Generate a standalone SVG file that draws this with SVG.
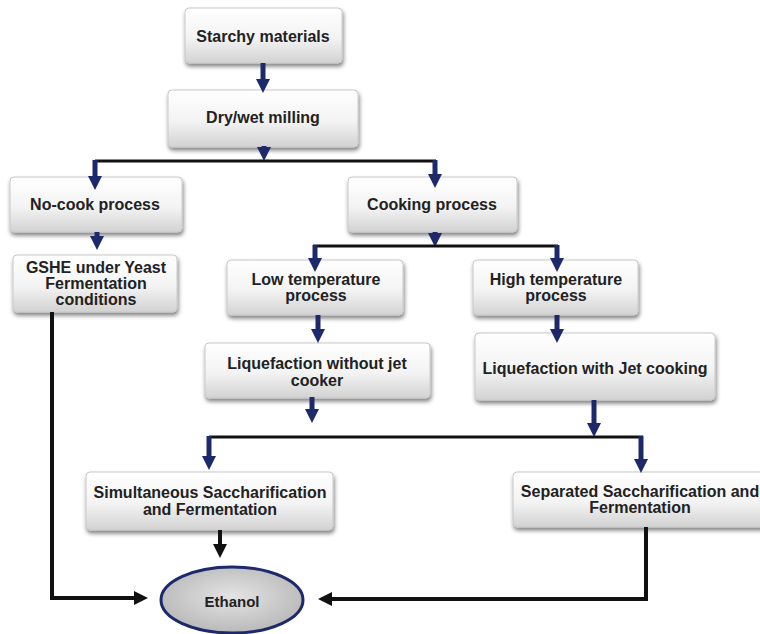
<svg xmlns="http://www.w3.org/2000/svg" width="760" height="634" viewBox="0 0 760 634">
<defs>
<linearGradient id="bg" x1="0" y1="0" x2="0" y2="1">
<stop offset="0" stop-color="#ffffff"/>
<stop offset="0.55" stop-color="#f3f3f3"/>
<stop offset="1" stop-color="#d2d2d2"/>
</linearGradient>
<radialGradient id="eg" cx="0.5" cy="0.45" r="0.6">
<stop offset="0" stop-color="#e4e4e4"/>
<stop offset="1" stop-color="#b5b5b5"/>
</radialGradient>
<filter id="sh" x="-10%" y="-10%" width="125%" height="140%">
<feGaussianBlur in="SourceAlpha" stdDeviation="2"/>
<feOffset dx="1" dy="3" result="b"/>
<feComponentTransfer><feFuncA type="linear" slope="0.5"/></feComponentTransfer>
<feMerge><feMergeNode/><feMergeNode in="SourceGraphic"/></feMerge>
</filter>
<marker id="nh" markerUnits="userSpaceOnUse" markerWidth="15" markerHeight="14" refX="0" refY="7" orient="auto" overflow="visible">
<path d="M0,0 L14,7 L0,14 Z" fill="#1c2a6b"/>
</marker>
<marker id="bh" markerUnits="userSpaceOnUse" markerWidth="15" markerHeight="14" refX="0" refY="7" orient="auto" overflow="visible">
<path d="M0,0 L14,7 L0,14 Z" fill="#111"/>
</marker>
</defs>
<style>
.box{fill:url(#bg);stroke:#c8c8c8;stroke-width:1;filter:url(#sh)}
.t{font-family:"Liberation Sans",Arial,sans-serif;font-weight:bold;font-size:16px;fill:#222;text-anchor:middle}
.n{fill:none;stroke:#1c2a6b;stroke-width:5}
.k{fill:none;stroke:#111;stroke-width:3}
.kb{fill:none;stroke:#111;stroke-width:4}
</style>

<g id="starchy"><rect class="box" x="185" y="8" width="157" height="55" rx="4"/><text class="t" x="263" y="42">Starchy materials</text></g>
<g id="milling"><rect class="box" x="168" y="90" width="190" height="57" rx="4"/><text class="t" x="263" y="123">Dry/wet milling</text></g>
<g id="nocook"><rect class="box" x="10" y="177" width="172" height="55" rx="4"/><text class="t" x="95" y="210">No-cook process</text></g>
<g id="gshe"><rect class="box" x="13" y="255" width="164" height="57" rx="4"/><text class="t" x="96" y="273">GSHE under Yeast</text><text class="t" x="96" y="289">Fermentation</text><text class="t" x="96" y="305">conditions</text></g>
<g id="cooking"><rect class="box" x="348" y="177" width="169" height="55" rx="4"/><text class="t" x="432" y="210">Cooking process</text></g>
<g id="lowtemp"><rect class="box" x="227" y="260" width="176" height="55" rx="4"/><text class="t" x="316" y="285">Low temperature</text><text class="t" x="316" y="301">process</text></g>
<g id="hightemp"><rect class="box" x="473" y="260" width="165" height="55" rx="4"/><text class="t" x="556" y="285">High temperature</text><text class="t" x="556" y="301">process</text></g>
<g id="liqnojet"><rect class="box" x="205" y="343" width="225" height="55" rx="4"/><text class="t" x="317" y="369">Liquefaction without jet</text><text class="t" x="317" y="386">cooker</text></g>
<g id="liqjet"><rect class="box" x="475" y="333" width="240" height="67" rx="4"/><text class="t" x="595" y="374">Liquefaction with Jet cooking</text></g>
<g id="ssf"><rect class="box" x="86" y="472" width="247" height="58" rx="4"/><text class="t" x="210" y="498">Simultaneous Saccharification</text><text class="t" x="210" y="515">and Fermentation</text></g>
<g id="shf"><rect class="box" x="513" y="472" width="252" height="55" rx="4"/><text class="t" x="640" y="497">Separated Saccharification and</text><text class="t" x="640" y="513">Fermentation</text></g>
<g id="ethanol"><ellipse cx="232" cy="600" rx="71" ry="33" fill="url(#eg)" stroke="#1c2a6b" stroke-width="3"/><text class="t" x="232" y="607" style="font-size:15px">Ethanol</text></g>

<g id="connectors">
<path class="n" d="M263,63 V79" marker-end="url(#nh)"/>
<path class="n" d="M264,146 V147" marker-end="url(#nh)"/>
<path class="k" d="M95,161 H436"/>
<path class="n" d="M95,160 V176" marker-end="url(#nh)"/>
<path class="n" d="M435,160 V174" marker-end="url(#nh)"/>
<path class="n" d="M97,232 V236" marker-end="url(#nh)"/>
<path class="n" d="M435,232 V233" marker-end="url(#nh)"/>
<path class="k" d="M313,246 H558"/>
<path class="n" d="M315,245 V258" marker-end="url(#nh)"/>
<path class="n" d="M557,245 V258" marker-end="url(#nh)"/>
<path class="n" d="M318,315 V329" marker-end="url(#nh)"/>
<path class="n" d="M557,315 V329" marker-end="url(#nh)"/>
<path class="n" d="M312,397 V409" marker-end="url(#nh)"/>
<path class="n" d="M594,400 V423" marker-end="url(#nh)"/>
<path class="k" d="M209,437 H643"/>
<path class="n" d="M209,436 V456" marker-end="url(#nh)"/>
<path class="n" d="M641,436 V459" marker-end="url(#nh)"/>
<path class="kb" d="M220,530 V544" marker-end="url(#bh)"/>
<path class="kb" d="M52,312 V598 H134" marker-end="url(#bh)"/>
<path class="kb" d="M646,527 V599 H332" marker-end="url(#bh)"/>
</g>
</svg>
